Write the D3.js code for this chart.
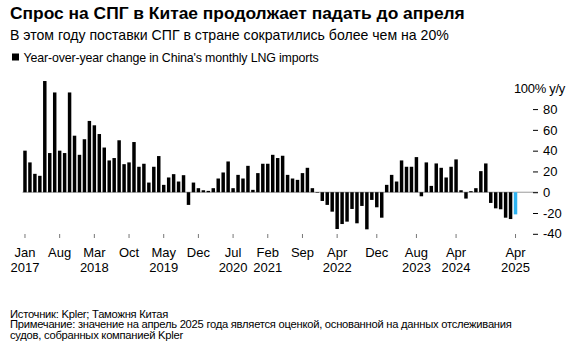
<!DOCTYPE html>
<html>
<head>
<meta charset="utf-8">
<script src="https://cdn.jsdelivr.net/npm/d3@7"></script>
<style>
  body { margin: 0; background: #fff; }
  svg { display: block; font-family: "Liberation Sans", Arial, sans-serif; }
</style>
</head>
<body>
<svg id="chart" width="568" height="350"></svg>
<script>
// ---- data ----
const startMonth = "2017-01";
const endMonth = "2025-04";
const values = [
  40, 28.7, 17.7, 15.8, 107, 37.7, 96, 40, 37.7, 96, 54.4, 36,
  51, 68.6, 64.4, 56, 43, 30.6, 32.9, 50, 27, 28.7, 48.3, 24.5,
  27.4, 9.3, 24.5, 34.8, 7.1, 14.2, 17.4, 10.3, 16.4, -12.2, 9.3, 3.9,
  1.9, 1.3, 3.9, 13.2, 19, 29.6, 3.9, 16.7, 13.2, 25.4, 2.3, 18.4,
  27.4, 27.4, 36, 32.9, 35.1, 16.7, 13.2, 11.9, 18.4, 23.5, 3.9, -0.5,
  -8.4, -12.2, -18.7, -35.4, -30.6, -28.3, -16.1, -29.9, -13.2, -35.7, -7.4, -14.5,
  -24.5, 7.1, 16.7, 10.3, 30.6, 24.5, 24.5, 33.8, -3.9, 28.7, 6.1, 27.7,
  23.5, 14.2, 24.5, 31.6, 1.9, -6.1, 1, 3.9, 20.3, 27.7, -10.3, -15.5,
  -16.4, -24.5, -25.8, -21.3
];
const estimateMonth = "2025-04";
const tickMonths = ["2017-01","2017-08","2018-03","2018-10","2019-05","2019-12","2020-07","2021-02","2021-09","2022-04","2022-12","2023-08","2024-04","2025-04"];
const tickMonthLabels = ["Jan","Aug","Mar","Oct","May","Dec","Jul","Feb","Sep","Apr","Dec","Aug","Apr","Apr"];
const tickYearLabels = ["2017","","2018","","2019","","2020","2021","","2022","","2023","2024","2025"];
const yTicks = [-40, -20, 0, 20, 40, 60, 80, 100];

const title = "Спрос на СПГ в Китае продолжает падать до апреля";
const subtitle = "В этом году поставки СПГ в стране сократились более чем на 20%";
const legendLabel = "Year-over-year change in China's monthly LNG imports";
const footLines = [
  "Источник: Kpler; Таможня Китая",
  "Примечание: значение на апрель 2025 года является оценкой, основанной на данных отслеживания",
  "судов, собранных компанией Kpler"
];

// ---- build ----
const fmt = d3.timeFormat("%Y-%m");
const parse = d3.timeParse("%Y-%m");
const months = d3.timeMonth.range(parse(startMonth), d3.timeMonth.offset(parse(endMonth), 1)).map(fmt);
const data = months.map((m, i) => ({ m, v: values[i] }));

const svg = d3.select("#chart");

const x = d3.scaleBand().domain(months).range([22.5, 518]).paddingInner(0.3).paddingOuter(0.15);
const y = d3.scaleLinear().domain([-40, 100]).range([233.8, 88.3]);

// title block
svg.append("text").attr("x", 10).attr("y", 19).attr("font-size", 17.4).attr("font-weight", "bold")
  .attr("fill", "#000").text(title);
svg.append("text").attr("x", 10).attr("y", 39.5).attr("font-size", 14.1)
  .attr("fill", "#000").text(subtitle);
svg.append("rect").attr("x", 12).attr("y", 53.5).attr("width", 7).attr("height", 7).attr("fill", "#000");
svg.append("text").attr("x", 23.5).attr("y", 61.5).attr("font-size", 12.4).attr("letter-spacing", -0.15)
  .attr("fill", "#000").text(legendLabel);

// zero line
svg.append("line").attr("x1", 22.5).attr("x2", 538).attr("y1", y(0)).attr("y2", y(0))
  .attr("stroke", "#9a9a9a").attr("stroke-width", 1);

// bars
svg.append("g").selectAll("rect").data(data).join("rect")
  .attr("x", d => x(d.m))
  .attr("width", x.bandwidth())
  .attr("y", d => y(Math.max(0, d.v)))
  .attr("height", d => Math.abs(y(d.v) - y(0)))
  .attr("fill", d => d.m === estimateMonth ? "#2fb4f2" : "#000");

// y axis (right)
const yAxis = d3.axisRight(y).tickValues(yTicks.filter(t => t < 100)).tickSize(5).tickPadding(5)
  .tickFormat(d => d);
const gy = svg.append("g").attr("transform", "translate(533,0)").call(yAxis);
gy.select(".domain").remove();
gy.selectAll(".tick line").attr("stroke", "#000");
gy.selectAll(".tick text").attr("font-size", 13).attr("fill", "#000")
  .attr("font-family", "Liberation Sans, Arial, sans-serif");
svg.append("text").attr("x", 565).attr("y", y(100) + 4.5).attr("text-anchor", "end")
  .attr("font-size", 13).attr("letter-spacing", -0.3).attr("fill", "#000").text("100% y/y");

// x axis
const xAxis = d3.axisBottom(x).tickValues(tickMonths).tickSize(4).tickPadding(0).tickFormat("");
const gx = svg.append("g").attr("transform", "translate(0,234)").call(xAxis);
gx.select(".domain").remove();
gx.selectAll(".tick line").attr("stroke", "#777");
gx.selectAll(".tick").each(function(d, i) {
  const t = d3.select(this);
  t.append("text").attr("y", 23).attr("text-anchor", "middle").attr("font-size", 13)
    .attr("fill", "#000").text(tickMonthLabels[i]);
  t.append("text").attr("y", 38).attr("text-anchor", "middle").attr("font-size", 13)
    .attr("fill", "#000").text(tickYearLabels[i]);
});

// footer
footLines.forEach((s, i) => {
  svg.append("text").attr("x", 10).attr("y", 317.5 + i * 10.6).attr("font-size", 11.2)
    .attr("letter-spacing", -0.25).attr("fill", "#000").text(s);
});
</script>
</body>
</html>
